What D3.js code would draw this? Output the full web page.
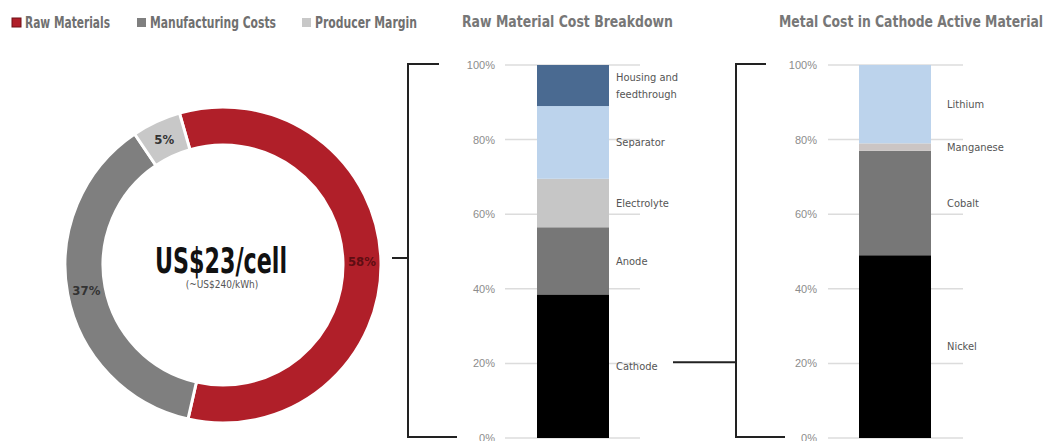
<!DOCTYPE html>
<html><head><meta charset="utf-8">
<script src="https://cdn.jsdelivr.net/npm/d3@7"></script>
<style>
html,body{margin:0;padding:0;background:#fff;overflow:hidden}
svg{display:block}
text{font-family:"Liberation Sans Narrow","DejaVu Sans Condensed","Roboto Condensed","Liberation Sans",sans-serif}
</style></head>
<body><svg id="c" width="1044" height="441"></svg>
<script>
// ---- data ----
const legendLabels = ["Raw Materials", "Manufacturing Costs", "Producer Margin"];
const donutValues = [58, 37, 5];
const donutLabels = ["58%", "37%", "5%"];
const centerTitle = "US$23/cell";
const centerSub = "(~US$240/kWh)";
const rawTitle = "Raw Material  Cost Breakdown";
const rawCategories = ["Cathode", "Anode", "Electrolyte", "Separator", "Housing and feedthrough"];
const rawLabelLines = [["Cathode"], ["Anode"], ["Electrolyte"], ["Separator"], ["Housing and", "feedthrough"]];
const rawValues = [38.5, 18, 13, 19.5, 11];
const metalTitle = "Metal  Cost in Cathode Active Material";
const metalCategories = ["Nickel", "Cobalt", "Manganese", "Lithium"];
const metalValues = [49, 28, 2, 21];
const tickValues = [0, 20, 40, 60, 80, 100];

// ---- styles ----
const donutColors = ["#b01f29", "#7f7f7f", "#c8c8c8"];
const donutLabelColors = ["#5e0d12", "#333", "#333"];
const rawColors = ["#000000", "#777777", "#c6c6c6", "#bcd3ec", "#4a6a91"];
const metalColors = ["#000000", "#777777", "#cbc5c4", "#bcd3ec"];

const svg = d3.select("#c");

// ---- legend ----
const legendX = [12, 137, 302];
const legendW = [85, 126, 102];
legendLabels.forEach((l, i) => {
  svg.append("rect").attr("x", legendX[i]).attr("y", 18).attr("width", 9).attr("height", 9)
    .attr("fill", donutColors[i]).attr("stroke", i === 0 ? "#6e1116" : "none").attr("stroke-width", 1);
  svg.append("text").attr("x", legendX[i] + 13).attr("y", 28).text(l)
    .attr("font-size", 15).attr("fill", "#707070").attr("font-weight", "bold")
    .attr("textLength", legendW[i]).attr("lengthAdjust", "spacingAndGlyphs");
});

// ---- donut ----
const cx = 223, cy = 265, rOut = 158, rIn = 120;
const start = -16 * Math.PI / 180;
const pie = d3.pie().sort(null).startAngle(start).endAngle(start + 2 * Math.PI)(donutValues);
const arc = d3.arc().innerRadius(rIn).outerRadius(rOut);
const labelArc = d3.arc().innerRadius(139).outerRadius(139);
const g = svg.append("g").attr("transform", `translate(${cx},${cy})`);
g.selectAll("path.slice").data(pie).join("path").attr("class", "slice")
  .attr("d", arc).attr("fill", (d, i) => donutColors[i])
  .attr("stroke", "#fff").attr("stroke-width", 3);
g.selectAll("text.pl").data(pie).join("text").attr("class", "pl")
  .attr("transform", d => `translate(${labelArc.centroid(d)})`)
  .attr("text-anchor", "middle").attr("dy", "0.35em")
  .attr("font-size", 13).attr("font-weight", "bold")
  .attr("fill", (d, i) => donutLabelColors[i]).text((d, i) => donutLabels[i]);
g.append("text").attr("x", -2).attr("y", 8).attr("text-anchor", "middle")
  .attr("font-size", 36).attr("font-weight", "bold").attr("fill", "#111")
  .attr("textLength", 132).attr("lengthAdjust", "spacingAndGlyphs").text(centerTitle);
g.append("text").attr("x", -1).attr("y", 23).attr("text-anchor", "middle")
  .attr("font-size", 10).attr("fill", "#555").text(centerSub);

// ---- bracket helper ----
function bracket(x, yTop, yBot, topLen, botLen) {
  svg.append("path")
    .attr("d", `M${x + topLen},${yTop}H${x}V${yBot}H${x + botLen}`)
    .attr("fill", "none").attr("stroke", "#222").attr("stroke-width", 2);
}

const y = d3.scaleLinear().domain([0, 100]).range([438, 65]);

function stackChart(opts) {
  const { title, titleX, titleW, cats, lines, vals, colors, barX0, barX1, gridX0, gridX1, tickX, labelX } = opts;
  svg.append("text").attr("x", titleX).attr("y", 27).text(title)
    .attr("font-size", 15).attr("font-weight", "bold").attr("fill", "#777")
    .attr("textLength", titleW).attr("lengthAdjust", "spacingAndGlyphs");
  const x = d3.scaleBand().domain(["bar"]).range([barX0, barX1]).padding(0);
  // gridlines
  svg.append("g").selectAll("line").data(tickValues).join("line")
    .attr("x1", gridX0).attr("x2", gridX1)
    .attr("y1", d => y(d)).attr("y2", d => y(d))
    .attr("stroke", "#dcdcdc").attr("stroke-width", 1.5);
  // axis
  const ax = svg.append("g").attr("transform", `translate(${tickX},0)`)
    .call(d3.axisLeft(y).tickValues(tickValues).tickSize(0).tickPadding(0).tickFormat(d => d + "%"));
  ax.select(".domain").remove();
  ax.selectAll("text").attr("font-size", 11).attr("fill", "#8c8c8c").style("fill", "#8c8c8c")
    .style("font-family", '"Liberation Sans","DejaVu Sans",sans-serif');
  // stack
  let acc = 0;
  const segs = vals.map((v, i) => { const s = { i, cat: cats[i], y0: acc, y1: acc + v }; acc += v; return s; });
  svg.append("g").selectAll("rect").data(segs).join("rect")
    .attr("x", x("bar")).attr("width", x.bandwidth())
    .attr("y", d => y(d.y1)).attr("height", d => y(d.y0) - y(d.y1))
    .attr("fill", d => colors[d.i]);
  const lab = svg.append("g").selectAll("text").data(segs).join("text")
    .attr("x", labelX).attr("y", d => y((d.y0 + d.y1) / 2))
    .attr("font-size", 11).attr("fill", "#555");
  lab.each(function (d) {
    const ls = lines[d.i];
    const t = d3.select(this);
    ls.forEach((l, k) => {
      t.append("tspan").attr("x", labelX)
        .attr("dy", k === 0 ? ((0.35 - (ls.length - 1) * 0.75) + "em") : "1.5em").text(l);
    });
  });
  return segs;
}

// left bracket + connector from donut
bracket(408, 64, 437, 31, 49);
svg.append("line").attr("x1", 392).attr("x2", 408).attr("y1", 258).attr("y2", 258)
  .attr("stroke", "#222").attr("stroke-width", 2);

const rawSegs = stackChart({
  title: rawTitle, titleX: 462, titleW: 211, cats: rawCategories, lines: rawLabelLines,
  vals: rawValues, colors: rawColors, barX0: 537, barX1: 609, gridX0: 505, gridX1: 640,
  tickX: 495, labelX: 616
});

bracket(736, 64, 437, 30, 49);
const cat = rawSegs[0];
const cathY = y((cat.y0 + cat.y1) / 2) - 4;
svg.append("line").attr("x1", 673).attr("x2", 736).attr("y1", cathY).attr("y2", cathY)
  .attr("stroke", "#222").attr("stroke-width", 2);

stackChart({
  title: metalTitle, titleX: 779, titleW: 264, cats: metalCategories,
  lines: metalCategories.map(c => [c]),
  vals: metalValues, colors: metalColors, barX0: 859, barX1: 931, gridX0: 828, gridX1: 963,
  tickX: 817, labelX: 947
});
</script></body></html>
